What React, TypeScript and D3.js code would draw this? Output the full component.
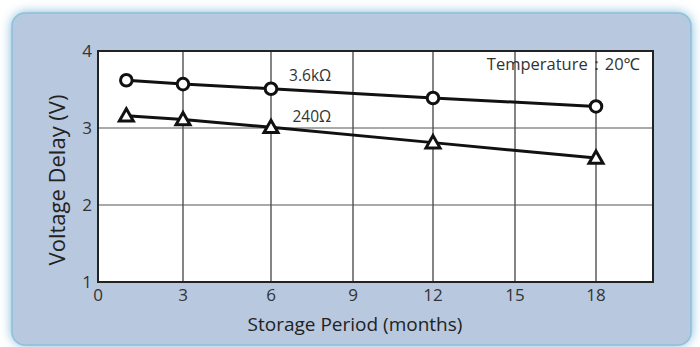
import React from "react";
import * as d3 from "d3";

const months3k6 = [1, 3, 6, 12, 18];
const values3k6 = [3.62, 3.57, 3.51, 3.39, 3.28];
const months240 = [1, 3, 6, 12, 18];
const values240 = [3.16, 3.11, 3.01, 2.81, 2.61];
const xTicks = [0, 3, 6, 9, 12, 15, 18];
const yTicks = [1, 2, 3, 4];

const W = 700, H = 347;
const L = 98, R = 653, T = 51, B = 282;

export default function App() {
  // the printed month axis is slightly uneven; calibrate the scale to its gridlines
  const x = d3.scaleLinear()
    .domain([0, 3, 6, 9, 12, 15, 18, 20])
    .range([L, 183, 271, 353, 433, 515, 596, R]);
  const y = d3.scaleLinear().domain([1, 4]).range([B, T]);
  const line = d3.line<[number, number]>().x(d => x(d[0])).y(d => y(d[1]));
  const s1 = months3k6.map((m, i) => [m, values3k6[i]] as [number, number]);
  const s2 = months240.map((m, i) => [m, values240[i]] as [number, number]);
  const font = "'Open Sans', 'Noto Sans', sans-serif";
  const tri = (cx: number, cy: number) => {
    const s = 7;
    return `M${cx},${cy - s}L${cx + s},${cy + s * 0.75}L${cx - s},${cy + s * 0.75}Z`;
  };
  return (
    <svg width={W} height={H} style={{ position: "absolute", left: 0, top: 0 }} fontFamily={font}>
      <defs>
        <filter id="glow" x="-10%" y="-10%" width="120%" height="130%">
          <feGaussianBlur stdDeviation="6" />
        </filter>
      </defs>
      <rect x={0} y={0} width={W} height={H} fill="#ffffff" />
      <rect x={12} y={13} width={679} height={332} rx={14} fill="#6fb0d4" filter="url(#glow)" />
      <rect x={12} y={13} width={679} height={332} rx={13} fill="#b8c8de" stroke="#8cc0dc" strokeWidth={1.5} />
      <rect x={L} y={T} width={R - L} height={B - T} fill="#ffffff" />
      {xTicks.filter(t => t > 0).map(t => (
        <line key={"gx" + t} x1={x(t)} x2={x(t)} y1={T} y2={B} stroke="#333" strokeWidth={1.2} />
      ))}
      {yTicks.filter(t => t > 1 && t < 4).map(t => (
        <line key={"gy" + t} x1={L} x2={R} y1={y(t)} y2={y(t)} stroke="#555" strokeWidth={1.2} />
      ))}
      <rect x={L} y={T} width={R - L} height={B - T} fill="none" stroke="#222" strokeWidth={2} />
      <path d={line(s1) || ""} fill="none" stroke="#111" strokeWidth={3} />
      <path d={line(s2) || ""} fill="none" stroke="#111" strokeWidth={3} />
      {s1.map((d, i) => (
        <circle key={"c" + i} cx={x(d[0])} cy={y(d[1])} r={5.8} fill="#fff" stroke="#111" strokeWidth={3} />
      ))}
      {s2.map((d, i) => (
        <path key={"t" + i} d={tri(x(d[0]), y(d[1]))} fill="#fff" stroke="#111" strokeWidth={3} strokeLinejoin="miter" />
      ))}
      <text x={x(8.2)} y={y(3.62) + 1} fontSize={15.5} fill="#333" textAnchor="end">3.6kΩ</text>
      <text x={x(8.2)} y={y(3.09) + 1} fontSize={15.5} fill="#333" textAnchor="end">240Ω</text>
      <text x={R - 13} y={T + 19} fontSize={16.5} fill="#333" textAnchor="end">Temperature：20℃</text>
      {xTicks.map(t => (
        <text key={"xt" + t} x={x(t)} y={B + 19} fontSize={17} fill="#333" textAnchor="middle">{t}</text>
      ))}
      {yTicks.map(t => (
        <text key={"yt" + t} x={L - 6} y={y(t) + 6} fontSize={17} fill="#333" textAnchor="end">{t}</text>
      ))}
      <text x={355} y={331} fontSize={19} fill="#222" textAnchor="middle">Storage Period (months)</text>
      <text transform={`translate(65,180) rotate(-90)`} fontSize={22} fill="#222" textAnchor="middle">Voltage Delay (V)</text>
    </svg>
  );
}
